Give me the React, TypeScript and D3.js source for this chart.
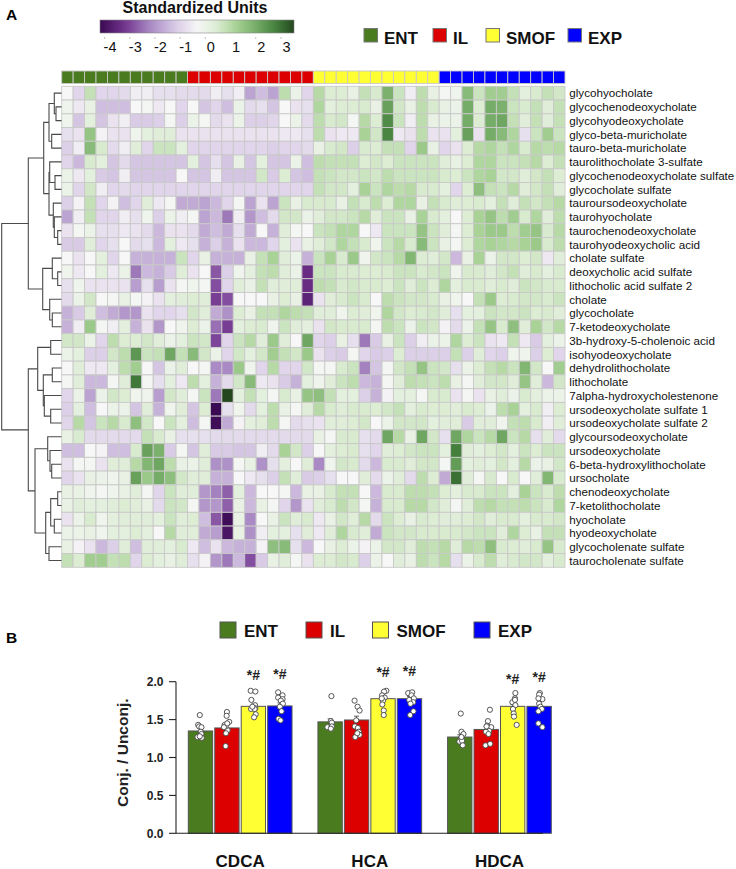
import React from "react";
import * as d3 from "d3";

// ---------- heatmap data (standardized units, one list per metabolite) ----------
const metabolites = [
  "glycohyocholate","glycochenodeoxycholate","glycohyodeoxycholate","glyco-beta-muricholate","tauro-beta-muricholate",
  "taurolithocholate 3-sulfate","glycochenodeoxycholate sulfate","glycocholate sulfate","tauroursodeoxycholate","taurohyocholate",
  "taurochenodeoxycholate","taurohyodeoxycholic acid","cholate sulfate","deoxycholic acid sulfate","lithocholic acid sulfate 2",
  "cholate","glycocholate","7-ketodeoxycholate","3b-hydroxy-5-cholenoic acid","isohyodeoxycholate",
  "dehydrolithocholate","lithocholate","7alpha-hydroxycholestenone","ursodeoxycholate sulfate 1","ursodeoxycholate sulfate 2",
  "glycoursodeoxycholate","ursodeoxycholate","6-beta-hydroxylithocholate","ursocholate","chenodeoxycholate",
  "7-ketolithocholate","hyocholate","hyodeoxycholate","glycocholenate sulfate","taurocholenate sulfate",
];
const row01 = [-0.5,-1.2,0.6,-1.2,-1.2,-1.1,-0.7,-0.7,-1.0,-1.0,-1.1,-1.1,-1.1,-0.7,-1.0,-0.7,-2.0,-1.6,-2.0,0.7,-0.2,-1.2,0.8,0.2,0.2,-0.1,0.6,0.3,1.7,0.5,-0.7,0.7,-0.1,-0.4,-0.3,1.5,0.5,1.1,1.1,0.6,0.0,0.3,0.6,0.4];
const row02 = [-0.3,-0.8,-0.1,-1.6,-1.6,-1.6,-0.5,-0.4,-0.8,-0.5,-1.2,-0.5,-1.5,-1.2,-1.6,-0.2,-1.1,-1.0,-1.5,-0.5,-0.9,-1.0,0.9,0.0,0.2,0.2,0.3,-0.1,2.0,0.4,-0.1,0.7,0.3,-0.1,-0.2,1.8,0.2,1.8,1.7,0.5,0.3,0.6,0.1,0.6];
const row03 = [-0.3,-1.5,0.0,-1.5,-0.9,-0.7,-1.4,-1.4,-1.3,-0.4,-1.3,-0.2,-0.4,-1.1,-0.9,-0.2,-1.3,-1.3,-1.2,-0.5,-0.2,-1.1,0.7,0.3,0.4,-0.4,0.8,0.2,2.4,0.5,-0.7,0.7,-0.1,-0.2,-0.2,1.8,0.2,1.8,1.9,0.6,0.1,0.6,0.1,0.6];
const row04 = [-1.0,-0.9,1.3,-0.6,-0.9,-0.9,-0.3,0.0,0.1,0.1,-0.9,-0.9,-0.9,-0.9,-0.9,-0.9,-0.9,-0.9,-0.9,-0.8,-0.8,-1.0,0.7,-0.9,-0.8,-0.8,1.0,0.4,2.5,-0.8,-0.9,0.7,-0.9,-0.9,0.0,2.0,-0.9,1.8,1.5,0.9,-1.0,0.5,1.1,0.5];
const row05 = [-1.3,-0.7,1.5,0.3,-1.1,-0.7,0.1,-1.2,0.5,0.5,0.0,-1.2,-1.2,-1.2,-1.2,-1.2,-1.2,-1.2,-1.3,-1.2,-1.2,-1.1,-0.1,0.3,0.4,-1.3,0.3,0.2,0.6,0.6,-1.2,1.2,-0.1,-1.2,-0.9,0.2,0.8,0.9,0.6,0.9,0.3,0.8,0.7,0.8];
const row06 = [-1.2,-1.7,0.3,0.0,-1.5,-1.1,-1.5,-1.5,-1.5,-1.5,-1.5,0.0,-1.5,-1.0,-1.5,-0.1,-1.5,0.0,-1.5,-1.5,-0.2,-1.6,0.7,0.6,0.6,0.6,0.2,0.4,0.2,0.5,0.5,0.5,0.5,0.1,-0.1,0.2,0.9,0.9,0.5,0.5,0.6,0.8,0.2,0.6];
const row07 = [-0.2,-0.8,0.0,-1.4,-1.5,-0.7,-1.5,-1.5,-1.5,-1.5,-0.5,-1.5,-1.5,-0.7,-1.5,-1.5,-1.5,0.4,-1.4,0.2,-1.5,-1.6,0.6,0.5,0.4,0.4,0.5,0.4,0.7,0.5,0.5,0.5,0.5,0.3,0.2,0.5,0.9,1.0,0.4,0.4,0.1,0.4,0.6,0.2];
const row08 = [-0.2,-1.2,0.4,-0.7,-1.2,-1.1,-1.2,-1.2,-1.2,-1.2,-1.2,-1.2,-1.2,-1.2,-1.2,-1.2,-1.2,-1.2,-1.2,-1.2,-1.2,-1.2,0.6,0.4,0.4,0.0,1.0,0.5,0.9,0.7,0.8,0.3,0.3,0.0,-1.2,0.2,1.4,0.6,0.5,0.8,0.1,0.4,0.6,0.1];
const row09 = [-1.3,-0.6,0.6,-1.2,-0.6,-1.6,-1.2,0.1,-0.8,-0.4,-1.9,-1.9,-2.0,-1.7,-1.2,-0.4,-2.0,-0.9,-2.0,0.5,-0.1,0.3,0.3,0.3,-0.1,0.6,0.3,0.7,0.2,0.9,0.9,-0.1,0.6,0.3,0.1,0.2,0.3,0.0,0.6,0.1,0.6,0.4,0.6,0.8];
const row10 = [-2.0,-0.7,0.6,-1.2,-1.2,-0.7,-1.0,-0.3,-1.3,-0.2,-0.7,-0.4,-2.0,-1.7,-2.6,-0.7,-2.2,-1.6,-1.1,0.4,0.4,-0.2,0.1,0.4,0.4,0.5,0.8,0.1,0.5,0.5,-0.1,1.0,0.3,0.0,-0.5,0.2,1.0,1.3,0.7,1.1,0.3,0.9,0.1,0.7];
const row11 = [-0.9,-0.4,-0.2,-1.0,-1.0,-0.8,-0.9,-1.1,-1.7,-0.9,-0.9,-1.1,-1.9,-1.6,-1.9,-1.0,-1.9,-0.5,-1.8,0.1,-0.4,-0.5,0.5,0.6,0.9,0.9,-0.5,-0.8,0.5,0.5,0.5,1.3,0.5,0.1,-0.4,0.2,1.0,1.2,1.2,0.7,1.1,1.3,0.3,0.8];
const row12 = [-1.4,-1.4,0.1,-1.2,-1.0,-0.5,-1.1,-1.0,-1.7,0.0,-0.8,-1.0,-1.8,-1.3,-1.8,-0.9,-1.7,-1.7,-1.2,0.0,-0.9,-0.1,0.1,0.4,0.9,0.6,0.3,-0.3,0.5,0.8,0.3,1.5,0.5,-0.1,-0.4,0.2,0.9,1.0,0.9,0.8,1.0,1.2,0.3,0.7];
const row13 = [-0.5,-0.9,-0.5,0.0,-1.2,-0.5,-1.8,-1.8,-1.8,-1.8,0.5,-1.2,-0.1,-1.8,-1.8,-1.8,-0.1,0.6,1.0,0.1,-0.2,-1.8,0.5,1.0,0.3,1.2,-0.3,0.4,0.5,0.8,1.6,0.2,0.1,0.4,-1.7,-0.1,1.0,-0.2,0.4,0.4,0.2,0.4,-0.8,0.1];
const row14 = [-0.3,-0.8,-0.5,0.0,-0.8,-0.2,-2.6,-1.7,-1.8,-1.4,0.1,-0.9,-0.5,-3.0,-1.3,-0.3,0.0,0.6,0.7,0.1,-0.2,-3.6,0.5,0.5,0.3,0.3,0.2,0.2,0.3,0.5,0.5,0.3,0.4,0.5,-0.3,0.3,0.3,0.1,0.4,0.6,0.1,0.3,0.0,0.3];
const row15 = [-1.0,-0.3,-0.9,-0.9,-0.9,-0.9,-2.1,-1.0,-2.1,-0.9,-0.4,-0.3,-0.4,-3.1,-1.2,0.1,-0.1,0.6,0.1,0.1,0.1,-3.6,0.7,0.6,0.3,0.4,0.3,0.3,0.2,0.5,0.1,0.5,0.2,0.9,0.0,0.3,0.3,0.1,0.3,0.1,0.5,0.4,0.3,0.3];
const row16 = [-1.1,-0.2,0.4,-0.5,-0.4,-0.1,-0.4,-0.6,-0.9,0.0,0.1,0.2,0.1,-3.3,-3.1,-0.5,-0.5,-0.5,-0.1,0.2,-0.1,-3.8,-0.9,0.1,0.3,0.5,0.3,-0.5,0.7,0.5,0.4,0.4,0.3,-0.1,-0.3,-0.5,0.6,1.2,0.2,0.3,0.4,0.4,0.3,0.5];
const row17 = [-1.8,-1.4,0.1,-1.6,-1.9,-2.2,-2.2,-0.9,-1.2,-1.2,-1.0,0.4,0.1,-1.9,-2.3,0.2,-0.1,0.6,0.6,0.9,0.7,0.6,0.1,0.1,-0.3,0.2,0.1,-0.3,0.9,0.4,0.2,0.3,0.4,0.1,-1.0,0.0,0.0,0.5,0.4,0.4,0.5,0.2,0.3,0.1];
const row18 = [-1.8,-0.7,1.2,-0.4,-0.7,0.0,-1.8,-0.9,-2.2,-0.5,-0.3,0.2,-0.2,-2.7,-3.3,0.0,0.2,0.3,-0.3,0.5,0.1,0.0,-0.9,0.4,0.3,0.3,0.3,-0.4,0.7,0.5,-0.2,0.5,0.4,-0.6,-1.1,-0.2,0.6,1.3,0.3,1.4,0.1,1.0,0.4,0.8];
const row19 = [0.4,0.4,-0.2,-1.2,0.7,0.2,0.2,0.4,0.1,-0.2,0.0,0.5,0.4,-3.2,-1.2,0.5,0.8,0.1,1.2,0.1,-0.5,1.9,-1.2,-1.3,-0.1,-1.0,-2.6,-1.4,-0.1,0.5,-1.3,-0.7,-0.2,-0.2,0.9,0.2,0.5,-0.9,-0.8,0.6,-0.8,-1.4,0.0,-0.2];
const row20 = [-0.2,0.0,-1.3,-1.3,0.4,0.7,2.2,0.5,0.6,1.9,0.6,1.5,0.4,-0.2,-1.2,0.4,0.0,0.4,1.1,0.6,0.4,1.2,-0.9,-1.3,-1.4,-0.4,-1.2,-1.4,-1.3,0.2,-1.3,-1.3,-1.3,-1.3,0.6,-1.3,0.1,-1.2,-1.3,-0.3,-0.3,-1.3,0.2,-1.2];
const row21 = [-0.5,0.1,-0.8,-0.8,0.0,0.7,1.1,-0.5,-1.5,-0.2,0.1,-0.5,-0.4,-2.4,-2.4,1.2,-0.3,-1.2,0.8,-1.2,-1.2,0.4,-0.4,-0.4,0.3,0.5,-2.5,-1.5,-0.4,0.4,0.6,1.3,0.5,0.4,-1.0,-0.2,0.2,0.6,0.8,0.5,1.6,0.4,-0.5,1.1];
const row22 = [-0.4,0.1,-1.7,-1.7,-0.4,0.1,2.7,-0.4,-1.0,0.0,-0.8,0.7,0.0,-1.8,-1.1,0.4,1.5,-0.8,-0.9,-1.4,-1.8,0.0,-0.3,0.1,0.5,0.7,-1.7,-1.8,-0.4,0.1,0.7,0.6,0.5,0.7,-0.1,-0.4,0.1,0.4,0.4,0.1,1.3,0.1,-1.7,0.4];
const row23 = [-1.2,-0.2,-2.0,-0.2,0.4,0.2,-0.3,-0.3,-2.1,0.4,0.1,-0.4,0.5,-2.6,3.3,0.0,0.6,0.0,-0.4,0.3,-0.1,1.3,1.4,0.6,0.0,0.0,-1.3,-1.8,-0.6,0.0,0.0,-0.4,0.3,0.3,-0.9,-0.4,-0.9,-0.1,0.1,-0.2,0.3,0.0,-0.2,-0.2];
const row24 = [-1.3,0.0,-1.6,-0.5,-0.2,-0.2,-1.5,0.1,-1.8,-0.3,0.1,-1.5,0.2,-4.4,-1.0,-0.3,-1.1,0.0,0.7,-0.1,-0.4,0.1,0.8,0.3,0.1,0.3,0.3,0.2,0.4,0.6,0.0,0.3,0.2,0.2,0.1,0.3,0.2,-0.2,0.7,1.0,0.0,0.3,-0.7,0.2];
const row25 = [-1.2,0.8,-1.5,0.5,0.8,0.3,1.4,0.4,-0.5,0.5,0.0,-1.6,-0.4,-4.3,-1.9,-0.6,0.0,0.1,0.7,-0.4,-1.1,-1.0,-0.9,0.1,0.1,0.2,0.4,-0.5,-0.2,0.4,0.4,0.4,0.0,0.1,0.1,-1.4,0.1,0.1,-0.3,0.6,0.7,0.3,-0.7,0.1];
const row26 = [-0.1,0.3,-1.1,-1.1,-1.1,-1.1,-1.1,0.6,0.3,-0.1,-1.0,-1.0,-1.0,-1.1,-1.1,-1.1,-1.1,-1.1,-1.1,-1.1,-1.1,-1.1,-0.1,-0.4,0.3,0.3,-1.0,-1.1,1.9,0.8,-0.1,1.9,0.4,-1.0,1.9,0.9,0.5,0.8,1.9,0.5,0.8,-1.0,0.1,-1.1];
const row27 = [-1.6,-1.6,-0.5,-0.6,-1.6,-1.6,0.3,2.0,1.7,-1.4,-0.4,-1.5,0.1,-1.4,-1.4,-1.5,-1.5,-0.7,-1.1,1.0,0.4,-1.3,-0.5,0.0,0.2,0.3,-1.0,-1.2,0.1,0.2,0.4,0.5,0.5,0.0,2.6,0.1,0.0,0.2,0.4,0.0,0.5,0.2,0.5,0.5];
const row28 = [-0.9,-0.4,-0.4,-0.9,0.1,0.1,0.8,1.6,1.9,0.7,-0.1,-0.2,0.1,-2.3,-2.3,-0.4,-0.1,-2.3,-1.0,0.0,-0.5,0.1,-2.4,-0.3,0.4,0.3,-1.1,-1.7,0.3,0.3,0.1,0.4,0.4,-0.4,2.1,0.0,0.1,0.0,0.4,0.0,0.8,-0.2,-0.1,0.4];
const row29 = [-1.2,-0.9,-0.1,-0.2,-0.3,-0.1,2.0,1.2,1.8,1.4,0.4,0.1,0.1,-1.8,-1.8,-0.5,-0.8,-1.0,-1.3,0.6,0.1,-1.4,-1.3,-1.0,-0.5,-0.5,0.1,-1.1,-0.2,0.1,-1.1,0.7,0.2,-1.9,2.8,0.1,-0.4,0.3,-0.5,0.3,-0.5,0.1,1.6,0.3];
const row30 = [-0.1,-0.1,-0.3,-0.4,-0.3,-0.1,0.1,-0.4,-1.2,0.5,0.1,0.1,-2.2,-2.5,-2.9,0.0,-1.7,-0.5,-0.5,-0.4,-1.7,-0.1,-0.1,0.3,0.6,0.6,-0.5,-1.7,0.3,0.3,0.7,0.7,0.6,0.2,0.0,0.3,0.3,0.5,0.5,0.0,1.0,0.5,0.3,0.7];
const row31 = [-0.1,0.1,0.0,0.0,0.1,0.2,0.1,-0.1,-1.1,0.5,0.4,-0.4,-2.2,-2.2,-2.9,-0.1,-1.7,-0.1,-0.4,-1.2,-2.2,-0.9,0.1,0.3,0.7,0.4,-0.4,-1.8,0.3,0.3,0.8,0.8,0.4,0.1,-0.4,0.1,0.7,0.8,0.6,0.6,0.7,0.5,0.3,0.9];
const row32 = [-0.9,-0.2,0.3,-0.3,0.0,0.1,0.1,0.1,0.0,0.5,0.1,0.2,-1.6,-3.0,-4.3,-0.1,-2.4,-0.5,-0.1,0.5,0.1,0.3,-0.8,-0.1,0.4,0.1,0.8,-1.1,0.5,0.2,-0.1,0.3,0.2,0.1,0.1,0.2,0.4,0.1,0.3,0.3,0.0,0.3,0.3,0.4];
const row33 = [-0.2,-0.2,-0.1,-0.3,0.0,0.0,0.2,0.0,-0.5,0.8,0.1,0.1,-1.9,-2.1,-4.1,-0.1,-2.3,-0.7,0.0,0.0,-1.0,0.1,-0.8,0.1,0.9,0.3,0.1,-1.9,0.5,0.4,0.4,0.3,0.3,0.3,0.3,0.4,0.5,0.5,0.1,0.9,0.2,-0.1,0.6,0.6];
const row34 = [-0.1,-0.6,-0.9,-1.7,-1.3,0.1,-1.6,0.1,0.1,0.0,0.3,-0.8,-1.6,-0.9,-1.7,-1.8,-1.8,-0.6,1.4,1.5,-1.0,-1.7,-0.5,-0.1,0.2,-0.2,-0.6,-0.2,0.4,0.4,0.1,0.7,0.6,0.8,0.1,0.8,0.7,1.4,0.3,0.2,0.1,0.3,1.3,0.3];
const row35 = [0.6,0.2,1.1,1.1,0.6,0.7,-1.2,0.2,0.0,-0.1,0.1,-1.0,-0.6,-2.2,-2.6,-1.7,-3.1,-1.4,-0.1,0.1,-0.4,-0.9,0.2,0.2,0.4,0.3,-1.3,-0.2,-0.5,0.1,-0.1,0.7,0.5,0.8,-1.0,-0.2,0.3,0.7,0.1,0.3,0.4,0.4,0.0,0.3];
const heatRows = [row01,row02,row03,row04,row05,row06,row07,row08,row09,row10,row11,row12,row13,row14,row15,row16,row17,row18,row19,row20,row21,row22,row23,row24,row25,row26,row27,row28,row29,row30,row31,row32,row33,row34,row35];

const colorStops = [-4.4,-3.4,-2.4,-1.4,-0.5,0.3,1,1.8,2.6,3.4];
const colorValues = ["#3a0a52","#73358f","#a98ac4","#d9cbe6","#f7f7f7","#d8ebcf","#a8d296","#75ac67","#44803c","#1f3f1a"];
const colorTicks = [-4,-3,-2,-1,0,1,2,3];

// ---------- dendrogram: [merge distance, child, child]; numbers are row indices ----------
type Den = number | [number, Den, Den];
const dendrogram: Den = [59.8,
  [33.2,
    [17.8,
      [12.5, [7.2, 0, [5.5, 1, 2]], [9.8, 3, 4]],
      [12.5, [11.8, 5, [6.5, 6, 7]], [8.2, 8, [7.2, 9, [3.8, 10, 11]]]]],
    [18.8,
      [9.2, 12, [3.8, 13, 14]],
      [11.8, 15, [9.2, 16, 17]]]],
  [33.2,
    [23.8,
      [10.8, 18, 19],
      [18.2, [9.2, 20, 21], [17.2, 22, [10.8, 23, 24]]]],
    [26.5,
      [13.8, 25, [11.5, 26, [9.8, 27, 28]]],
      [15.8,
        [10.8, [3.8, 29, 30], [7.2, 31, 32]],
        [12.5, 33, 34]]]]];

// ---------- groups ----------
const groupNames = ["ENT","IL","SMOF","EXP"];
const groupColors = ["#4a7c1f","#dd0000","#ffff33","#0000ff"];
const samplesPerGroup = 11;

// ---------- bar chart ----------
const bileAcids = ["CDCA","HCA","HDCA"];
const cdcaMeans = [1.35,1.39,1.675,1.68];
const hcaMeans = [1.47,1.495,1.776,1.776];
const hdcaMeans = [1.27,1.37,1.675,1.675];
const barMeans = [cdcaMeans,hcaMeans,hdcaMeans];
const cdcaSem = [0.03,0.04,0.03,0.04];
const hcaSem = [0.04,0.05,0.03,0.03];
const hdcaSem = [0.03,0.04,0.03,0.04];
const barSem = [cdcaSem,hcaSem,hdcaSem];
const yTicks = [0,0.5,1,1.5,2];
// significance label height per bar (in axis units)
const cdcaSig = [null,null,2.02,2.04];
const hcaSig = [null,null,2.065,2.08];
const hdcaSig = [null,null,1.975,1.99];
const sigHeights = [cdcaSig,hcaSig,hdcaSig];

// individual animals: [value, horizontal jitter]
const cdcaEnt = [[1.56,-0.7],[1.43,-2.3],[1.41,-1.3],[1.4,1],[1.34,0.3],[1.27,-3],[1.31,1],[1.26,1.3],[1.28,-0.7]];
const cdcaIl = [[1.6,0],[1.55,-0.3],[1.47,2.3],[1.43,-2.3],[1.36,0.7],[1.41,-1.3],[1.45,0.3],[1.32,-1],[1.15,-1.3],[1.4,-3]];
const cdcaSmof = [[1.88,-2.7],[1.87,2],[1.76,-2],[1.69,1.7],[1.65,2],[1.64,-2.3],[1.64,1.3],[1.57,2.3],[1.53,0.7],[1.67,-1]];
const cdcaExp = [[1.86,-1.7],[1.82,2.7],[1.79,-1.7],[1.77,2.7],[1.75,1],[1.71,3],[1.67,0],[1.61,1.7],[1.51,-1.3],[1.49,0.7]];
const hcaEnt = [[1.81,1.3],[1.48,0.7],[1.46,1.7],[1.4,-2.7],[1.41,1.7],[1.38,0.7]];
const hcaIl = [[1.75,-2],[1.67,1],[1.62,3],[1.49,-0.3],[1.41,-1.7],[1.39,1.3],[1.34,2.3],[1.3,3],[1.27,-1.3],[1.32,0.7]];
const hcaSmof = [[1.88,3.3],[1.87,1],[1.82,-1],[1.79,1.7],[1.75,0],[1.7,-0.7],[1.62,0.7],[1.56,0.7],[1.78,-1.3]];
const hcaExp = [[1.85,-1.3],[1.86,2.7],[1.82,2],[1.78,4.3],[1.76,-0.3],[1.73,3.7],[1.71,1],[1.61,4],[1.56,0.7]];
const hdcaEnt = [[1.58,1],[1.34,1.7],[1.31,3.7],[1.25,1],[1.21,-0.3],[1.22,2.3],[1.16,3],[1.27,1.7]];
const hdcaIl = [[1.63,3.7],[1.48,1.7],[1.42,1],[1.4,5],[1.35,3],[1.34,-0.3],[1.31,2.3],[1.16,-0.7],[1.18,4],[1.41,0.3]];
const hdcaSmof = [[1.85,2.7],[1.78,2.3],[1.73,1.3],[1.73,-0.3],[1.69,2.7],[1.64,0.3],[1.58,1],[1.54,1.3],[1.43,4],[1.76,2.3]];
const hdcaExp = [[1.85,0.7],[1.83,0],[1.77,3.3],[1.78,-0.7],[1.71,0],[1.67,1.3],[1.64,2.7],[1.61,-0.7],[1.45,-0.7],[1.4,3.3]];
const barPoints = [
  [cdcaEnt,cdcaIl,cdcaSmof,cdcaExp],
  [hcaEnt,hcaIl,hcaSmof,hcaExp],
  [hdcaEnt,hdcaIl,hdcaSmof,hdcaExp],
];

const FONT = "'Liberation Sans', Arial, sans-serif";

function dendroLines(node: Den, yOf: (i: number) => number, xOf: (d: number) => number) {
  const segs: string[] = [];
  const walk = (n: Den): { y: number; x: number } => {
    if (typeof n === "number") return { y: yOf(n), x: xOf(0) };
    const a = walk(n[1]);
    const b = walk(n[2]);
    const x = xOf(n[0]);
    segs.push(`M${a.x},${a.y}H${x}V${b.y}H${b.x}`);
    return { y: (a.y + b.y) / 2, x };
  };
  walk(node);
  return segs;
}

export default function App() {
  const nCols = samplesPerGroup * groupNames.length;
  const colX = d3.scaleBand<number>().domain(d3.range(nCols)).range([61.7, 565]);
  const rowY = d3.scaleBand<number>().domain(d3.range(heatRows.length)).range([86.3, 567.3]);
  const color = d3.scaleLinear<string>().domain(colorStops).range(colorValues).clamp(true);
  const cbarX = d3.scaleLinear().domain([-4.4, 3.3]).range([100, 294]);
  const denX = d3.scaleLinear().domain([0, 60]).range([61.5, 1.5]);
  const den = dendroLines(dendrogram, (i) => rowY(i)! + rowY.bandwidth() / 2, denX);
  const gradStops = d3.range(0, 1.0001, 0.05);

  const y = d3.scaleLinear().domain([0, 2]).range([833.3, 681.7]);
  const gx = d3.scaleBand<string>().domain(bileAcids).range([188.3, 551.3]).paddingInner(0.2);
  const bx = d3.scaleBand<string>().domain(groupNames).range([0, gx.bandwidth()]).paddingInner(0.08);

  const topLegend = [364, 433, 486, 568];
  const bottomLegend = [220, 306, 372.5, 474];

  return (
    <svg width={736} height={869} style={{ position: "absolute", left: 0, top: 0, background: "#fff" }} fontFamily={FONT}>
      <defs>
        <linearGradient id="cbar" x1="0" x2="1" y1="0" y2="0">
          {gradStops.map((t) => (
            <stop key={t} offset={t} stopColor={color(-4.4 + 7.7 * t)} />
          ))}
        </linearGradient>
      </defs>

      <text x={6} y={20} fontSize={15.5} fontWeight="bold">A</text>
      <text x={6} y={643} fontSize={15.5} fontWeight="bold">B</text>

      <text x={195} y={12.7} textAnchor="middle" fontSize={16} fontWeight="bold" fill="#111">Standardized Units</text>
      <rect x={100} y={20} width={194} height={13} fill="url(#cbar)" stroke="#888" strokeWidth={0.6} />
      {colorTicks.filter((t) => t !== 1).map((t) => (
        <line key={t} x1={cbarX(t) - 6} x2={cbarX(t) - 5} y1={38} y2={38} stroke="#888" strokeWidth={1} />
      ))}
      {colorTicks.map((t) => (
        <text key={t} x={cbarX(t)} y={51.5} textAnchor="middle" fontSize={14.5} fill="#111">{t}</text>
      ))}

      {groupNames.map((g, i) => (
        <g key={g}>
          <rect x={topLegend[i]} y={28.5} width={13.5} height={13.5} fill={groupColors[i]} stroke="#777" strokeWidth={1} />
          <text x={topLegend[i] + 20} y={44} fontSize={17} fontWeight="bold" fill="#111">{g}</text>
        </g>
      ))}

      {d3.range(nCols).map((c) => (
        <rect key={c} x={colX(c)} y={71} width={colX.bandwidth()} height={12.5}
          fill={groupColors[Math.floor(c / samplesPerGroup)]} stroke="#c8c8c8" strokeWidth={0.9} />
      ))}

      {heatRows.map((vals, r) =>
        vals.map((v, c) => (
          <rect key={`${r}-${c}`} x={colX(c)} y={rowY(r)} width={colX.bandwidth()} height={rowY.bandwidth()}
            fill={color(v)} stroke="#c9c9c9" strokeWidth={0.9} />
        ))
      )}

      {metabolites.map((m, r) => (
        <text key={m} x={569.3} y={rowY(r)! + rowY.bandwidth() / 2 + 4.3} fontSize={11.65} fill="#111">{m}</text>
      ))}

      <g fill="none" stroke="#4a4a4a" strokeWidth={1.1}>
        {den.map((d, i) => <path key={i} d={d} />)}
      </g>

      {groupNames.map((g, i) => (
        <g key={g}>
          <rect x={bottomLegend[i]} y={622} width={16} height={16} fill={groupColors[i]} stroke="#555" strokeWidth={1} />
          <text x={bottomLegend[i] + 24} y={636.7} fontSize={17} fontWeight="bold" fill="#111">{g}</text>
        </g>
      ))}

      {bileAcids.map((acid, a) => (
        <g key={acid} transform={`translate(${gx(acid)},0)`}>
          {groupNames.map((g, i) => (
            <rect key={g} x={bx(g)} y={y(barMeans[a][i])} width={bx.bandwidth()} height={y(0) - y(barMeans[a][i])}
              fill={groupColors[i]} stroke="#555" strokeWidth={1} />
          ))}
          {groupNames.map((g, i) => {
            const cx = bx(g)! + bx.bandwidth() / 2;
            const top = y(barMeans[a][i] + barSem[a][i]);
            return (
              <path key={g} d={`M${cx},${y(barMeans[a][i])}V${top}M${cx - 2.5},${top}H${cx + 2.5}`} fill="none" stroke="#333" strokeWidth={0.8} />
            );
          })}
          {groupNames.map((g, i) =>
            barPoints[a][i].map(([v, j], k) => (
              <circle key={g + k} cx={bx(g)! + bx.bandwidth() / 2 + j} cy={y(v)} r={2.6} fill="#fff" stroke="#444" strokeWidth={0.9} />
            ))
          )}
          {groupNames.map((g, i) => {
            const s = sigHeights[a][i];
            return s == null ? null : (
              <text key={g} x={bx(g)! + bx.bandwidth() / 2} y={y(s)} textAnchor="middle" fontSize={14} fontWeight="bold" fill="#222">*#</text>
            );
          })}
          <text x={gx.bandwidth() / 2} y={866.5} textAnchor="middle" fontSize={17} fontWeight="bold" fill="#111">{acid}</text>
        </g>
      ))}

      <line x1={176} x2={543} y1={y(0)} y2={y(0)} stroke="#222" strokeWidth={1.1} />
      <line x1={176} x2={176} y1={y(0)} y2={y(2)} stroke="#222" strokeWidth={1.1} />
      {yTicks.map((t) => (
        <g key={t}>
          <line x1={169} x2={176} y1={y(t)} y2={y(t)} stroke="#222" strokeWidth={1.1} />
          <text x={163.5} y={y(t) + 4.3} textAnchor="end" fontSize={12} fontWeight="bold" fill="#222">{t.toFixed(1)}</text>
        </g>
      ))}
      <text transform={`translate(127.5,752.7) rotate(-90)`} textAnchor="middle" fontSize={15.5} fontWeight="bold" fill="#222">Conj. / Unconj.</text>
    </svg>
  );
}
